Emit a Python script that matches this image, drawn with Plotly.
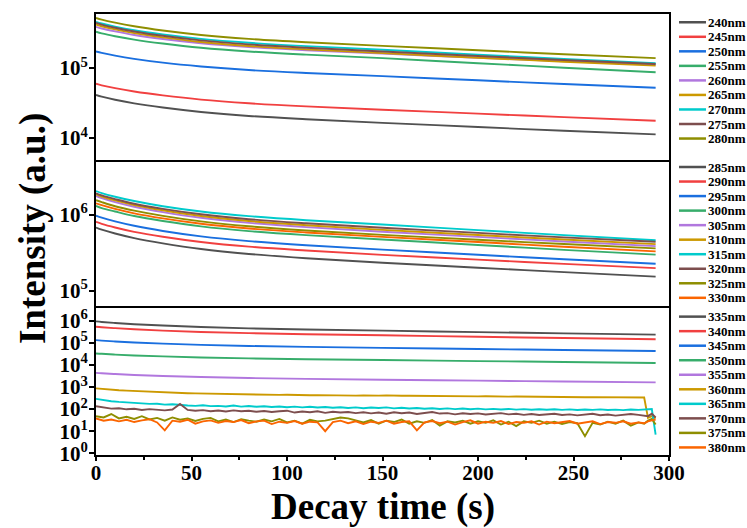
import math
import plotly.graph_objects as go

# ---------------------------------------------------------------------------
# Afterglow decay curves, grouped by excitation wavelength (three panels)
# ---------------------------------------------------------------------------

# time grid (s) for the smooth decays
t_smooth = [0, 3, 10, 20, 35, 55, 80, 110, 150, 200, 245, 293]

# panel 1: 240-280 nm
names_top = ["240nm", "245nm", "250nm", "255nm", "260nm", "265nm", "270nm", "275nm", "280nm"]
I_240 = [4.12e4, 3.90e4, 3.52e4, 3.13e4, 2.73e4, 2.36e4, 2.07e4, 1.86e4, 1.65e4, 1.44e4, 1.27e4, 1.13e4]
I_245 = [5.96e4, 5.66e4, 5.15e4, 4.61e4, 4.06e4, 3.54e4, 3.14e4, 2.83e4, 2.54e4, 2.23e4, 1.99e4, 1.77e4]
I_250 = [1.72e5, 1.64e5, 1.50e5, 1.35e5, 1.19e5, 1.05e5, 9.35e4, 8.49e4, 7.64e4, 6.67e4, 5.90e4, 5.22e4]
I_255 = [3.29e5, 3.12e5, 2.84e5, 2.54e5, 2.23e5, 1.94e5, 1.72e5, 1.55e5, 1.38e5, 1.17e5, 1.01e5, 8.69e4]
I_260 = [3.86e5, 3.66e5, 3.33e5, 2.96e5, 2.59e5, 2.25e5, 1.99e5, 1.79e5, 1.60e5, 1.40e5, 1.25e5, 1.12e5]
I_265 = [4.17e5, 3.94e5, 3.55e5, 3.14e5, 2.73e5, 2.35e5, 2.06e5, 1.84e5, 1.63e5, 1.40e5, 1.23e5, 1.08e5]
I_270 = [4.55e5, 4.31e5, 3.89e5, 3.45e5, 3.01e5, 2.60e5, 2.29e5, 2.05e5, 1.82e5, 1.55e5, 1.35e5, 1.17e5]
I_275 = [4.41e5, 4.16e5, 3.75e5, 3.32e5, 2.88e5, 2.48e5, 2.17e5, 1.94e5, 1.72e5, 1.48e5, 1.30e5, 1.14e5]
I_280 = [5.18e5, 4.90e5, 4.43e5, 3.93e5, 3.42e5, 2.96e5, 2.60e5, 2.33e5, 2.07e5, 1.79e5, 1.57e5, 1.38e5]

# panel 2: 285-330 nm
names_mid = ["285nm", "290nm", "295nm", "300nm", "305nm", "310nm", "315nm", "320nm", "325nm", "330nm"]
I_285 = [6.76e5, 6.34e5, 5.64e5, 4.91e5, 4.19e5, 3.53e5, 3.04e5, 2.67e5, 2.33e5, 2.00e5, 1.75e5, 1.53e5]
I_290 = [8.04e5, 7.57e5, 6.78e5, 5.94e5, 5.12e5, 4.37e5, 3.79e5, 3.37e5, 2.95e5, 2.56e5, 2.25e5, 1.98e5]
I_295 = [9.70e5, 9.12e5, 8.15e5, 7.13e5, 6.10e5, 5.18e5, 4.48e5, 3.95e5, 3.46e5, 2.96e5, 2.59e5, 2.26e5]
I_300 = [1.30e6, 1.22e6, 1.10e6, 9.59e5, 8.24e5, 7.00e5, 6.07e5, 5.37e5, 4.70e5, 3.99e5, 3.44e5, 2.98e5]
I_305 = [1.76e6, 1.65e6, 1.46e6, 1.27e6, 1.08e6, 9.08e5, 7.80e5, 6.85e5, 5.96e5, 5.09e5, 4.43e5, 3.85e5]
I_310 = [1.85e6, 1.73e6, 1.54e6, 1.34e6, 1.14e6, 9.59e5, 8.24e5, 7.26e5, 6.31e5, 5.40e5, 4.70e5, 4.09e5]
I_315 = [2.04e6, 1.92e6, 1.72e6, 1.51e6, 1.29e6, 1.10e6, 9.55e5, 8.45e5, 7.41e5, 6.25e5, 5.37e5, 4.61e5]
I_320 = [1.91e6, 1.79e6, 1.60e6, 1.39e6, 1.19e6, 1.01e6, 8.71e5, 7.69e5, 6.71e5, 5.75e5, 5.02e5, 4.39e5]
I_325 = [1.55e6, 1.46e6, 1.29e6, 1.13e6, 9.64e5, 8.15e5, 7.03e5, 6.19e5, 5.41e5, 4.67e5, 4.10e5, 3.60e5]
I_330 = [1.41e6, 1.33e6, 1.19e6, 1.04e6, 8.93e5, 7.59e5, 6.58e5, 5.82e5, 5.09e5, 4.36e5, 3.78e5, 3.29e5]

# panel 3: 335-380 nm (the weak ones are noisy, sampled more densely)
names_bot = ["335nm", "340nm", "345nm", "350nm", "355nm", "360nm", "365nm", "370nm", "375nm", "380nm"]
I_335 = [9.33e5, 8.81e5, 7.93e5, 6.98e5, 6.04e5, 5.18e5, 4.52e5, 4.03e5, 3.55e5, 3.05e5, 2.68e5, 2.34e5]
I_340 = [5.37e5, 5.09e5, 4.61e5, 4.10e5, 3.58e5, 3.10e5, 2.74e5, 2.46e5, 2.19e5, 1.88e5, 1.65e5, 1.45e5]
I_345 = [1.32e5, 1.26e5, 1.15e5, 1.04e5, 9.16e4, 8.05e4, 7.19e4, 6.53e4, 5.89e4, 5.25e4, 4.73e4, 4.27e4]
I_350 = [3.31e4, 3.18e4, 2.94e4, 2.69e4, 2.43e4, 2.17e4, 1.97e4, 1.82e4, 1.66e4, 1.49e4, 1.36e4, 1.23e4]
I_355 = [4.37e3, 4.18e3, 3.86e3, 3.52e3, 3.16e3, 2.82e3, 2.55e3, 2.34e3, 2.14e3, 1.94e3, 1.77e3, 1.62e3]

t_noisy = list(range(0, 285, 4)) + [287, 289, 291, 293]
I_360 = [870, 800, 760, 720, 690, 660, 640, 615,
         600, 580, 560, 545, 525, 515, 505, 495,
         485, 490, 470, 465, 470, 455, 450, 455,
         440, 445, 430, 435, 425, 430, 420, 425,
         415, 420, 410, 415, 405, 410, 420, 425,
         405, 400, 395, 400, 390, 395, 385, 390,
         380, 385, 378, 382, 372, 376, 368, 372,
         366, 362, 366, 358, 362, 350, 345, 350,
         345, 350, 345, 340, 346, 340, 345, 340,
         335, 40, 48, 38]
I_365 = [290, 250, 228, 212, 200, 190, 182, 172,
         176, 160, 165, 150, 146, 140, 150, 136,
         140, 132, 145, 130, 138, 128, 135, 125,
         132, 122, 130, 120, 128, 118, 125, 116,
         122, 112, 120, 110, 118, 112, 120, 108,
         115, 106, 112, 104, 110, 102, 108, 100,
         106, 98, 105, 97, 103, 96, 102, 95,
         100, 94, 99, 93, 98, 92, 97, 91,
         96, 92, 97, 91, 95, 90, 96, 92,
         95, 104, 100, 7]
I_370 = [135, 118, 105, 110, 98, 104, 92, 100,
         94, 88, 96, 170, 92, 84, 90, 80,
         86, 78, 88, 80, 84, 76, 82, 74,
         80, 85, 70, 78, 72, 80, 68, 76,
         70, 74, 66, 72, 64, 70, 62, 72,
         65, 70, 60, 68, 74, 63, 66, 58,
         65, 60, 64, 57, 62, 66, 58, 62,
         55, 60, 54, 59, 62, 54, 58, 52,
         57, 62, 53, 57, 51, 56, 60, 55,
         52, 48, 62, 42]
I_375 = [48, 42, 60, 38, 45, 36, 48, 34,
         40, 30, 42, 33, 38, 29, 36, 40,
         28, 34, 26, 35, 30, 27, 34, 28,
         36, 25, 30, 22, 33, 28, 30, 35,
         42, 38, 30, 25, 32, 22, 30, 26,
         34, 22, 28, 24, 32, 18, 28, 25,
         30, 22, 28, 24, 31, 20, 27, 17,
         28, 24, 30, 22, 27, 21, 26, 23,
         6, 24, 20, 27, 22, 30, 18, 25,
         22, 30, 36, 20]
I_380 = [38, 30, 34, 28, 33, 26, 31, 35,
         25, 11, 30, 27, 33, 22, 28, 31,
         24, 29, 26, 32, 23, 28, 30, 21,
         27, 24, 29, 22, 27, 25, 10, 26,
         30, 23, 28, 21, 27, 24, 30, 22,
         26, 28, 11, 25, 29, 23, 27, 20,
         26, 31, 22, 27, 24, 29, 21, 26,
         24, 28, 20, 27, 23, 26, 29, 22,
         25, 28, 21, 26, 24, 28, 22, 25,
         23, 28, 31, 34]

# axis ticks
x_ticks = [0, 50, 100, 150, 200, 250, 300]
decades_top = [1e4, 1e5]
decades_mid = [1e5, 1e6]
decades_bot = [1e0, 1e1, 1e2, 1e3, 1e4, 1e5, 1e6]

# Origin-style default colour cycle
palette = ["#515151", "#F14040", "#1A6FDF", "#37AD6B", "#B177DE",
           "#CC9900", "#00CBCC", "#7D4E4E", "#8E8E00", "#FB6501"]

FONT = "Liberation Serif, Times New Roman, serif"

panels = [
    # (names, series, times per series, x axis, y axis, first legend row px)
    (names_top, [I_240, I_245, I_250, I_255, I_260, I_265, I_270, I_275, I_280],
     [t_smooth] * 9, "x", "y", 20.3),
    (names_mid, [I_285, I_290, I_295, I_300, I_305, I_310, I_315, I_320, I_325, I_330],
     [t_smooth] * 10, "x2", "y2", 165.7),
    (names_bot, [I_335, I_340, I_345, I_350, I_355, I_360, I_365, I_370, I_375, I_380],
     [t_smooth] * 5 + [t_noisy] * 5, "x3", "y3", 316.0),
]

W, H = 747, 528
M_L, M_R, M_T, M_B = 96, 78, 12, 73
plot_w = W - M_L - M_R
plot_h = H - M_T - M_B


def px_to_paper_x(px):
    return (px - M_L) / plot_w


def px_to_paper_y(py):
    return (H - M_B - py) / plot_h


def power_labels(vals):
    return ["10<sup>%d</sup>" % round(math.log10(v)) for v in vals]


fig = go.Figure()
shapes = []
annotations = []
row_step = 14.6

for names, series, times, xa, ya, row0 in panels:
    for i, (name, ys, ts) in enumerate(zip(names, series, times)):
        col = palette[i]
        smooth = ts is t_smooth
        fig.add_trace(go.Scatter(
            x=ts, y=ys, mode="lines", name=name, xaxis=xa, yaxis=ya,
            line=dict(color=col, width=1.9,
                      shape="spline" if smooth else "linear",
                      smoothing=1.0 if smooth else None),
            showlegend=False,
        ))
        # legend row beside the panel
        yp = px_to_paper_y(row0 + i * row_step)
        shapes.append(dict(type="line", xref="paper", yref="paper",
                           x0=px_to_paper_x(679), x1=px_to_paper_x(706), y0=yp, y1=yp,
                           line=dict(color=col, width=2.5)))
        annotations.append(dict(text=name, xref="paper", yref="paper",
                                x=px_to_paper_x(706), y=yp, xanchor="left", yanchor="middle",
                                showarrow=False,
                                font=dict(family=FONT, size=13, color="black", weight="bold")))

annotations.append(dict(text="Intensity (a.u.)", xref="paper", yref="paper",
                        x=px_to_paper_x(33), y=px_to_paper_y(228), textangle=-90,
                        xanchor="center", yanchor="middle", showarrow=False,
                        font=dict(family=FONT, size=37, color="black", weight="bold")))
annotations.append(dict(text="Decay time (s)", xref="paper", yref="paper",
                        x=0.5, y=px_to_paper_y(507), xanchor="center", yanchor="middle",
                        showarrow=False,
                        font=dict(family=FONT, size=37, color="black", weight="bold")))

tickfont = dict(family=FONT, size=21, color="black", weight="bold")

common_x = dict(range=[0, 300], showline=True, mirror=True, linewidth=2, linecolor="black",
                showgrid=False, zeroline=False)
common_y = dict(type="log", showline=True, mirror=True,
                linewidth=2, linecolor="black", showgrid=False, zeroline=False,
                ticks="outside", ticklen=5, tickwidth=2, tickcolor="black", tickfont=tickfont,
                ticklabelstandoff=-3)

# panel boundaries (paper units); a 2 px gap lets adjoining frame lines coincide
gap = 2.0 / plot_h
b1, b2 = 0.3353, 0.6671
fig.update_layout(
    width=W, height=H,
    margin=dict(l=M_L, r=M_R, t=M_T, b=M_B),
    paper_bgcolor="white", plot_bgcolor="white",
    showlegend=False,
    xaxis=dict(**common_x, anchor="y", showticklabels=False, ticks=""),
    xaxis2=dict(**common_x, anchor="y2", matches="x", showticklabels=False, ticks=""),
    xaxis3=dict(**common_x, anchor="y3", matches="x", tickvals=x_ticks,
                ticks="outside", ticklen=4, tickwidth=2, tickcolor="black", tickfont=tickfont,
                ticklabelstandoff=-6,
                minor=dict(ticks="outside", dtick=25, ticklen=3, tickwidth=2, tickcolor="black")),
    yaxis=dict(**common_y, domain=[b2 + gap / 2, 1.0], range=[3.69, 5.77], anchor="x",
               tickvals=decades_top, ticktext=power_labels(decades_top)),
    yaxis2=dict(**common_y, domain=[b1 + gap / 2, b2 - gap / 2], range=[4.796, 6.695], anchor="x2",
                tickvals=decades_mid, ticktext=power_labels(decades_mid)),
    yaxis3=dict(**common_y, domain=[0.0, b1 - gap / 2], range=[-0.076, 6.57], anchor="x3",
                tickvals=decades_bot, ticktext=power_labels(decades_bot)),
    shapes=shapes,
    annotations=annotations,
)

fig.write_html("out.html")
